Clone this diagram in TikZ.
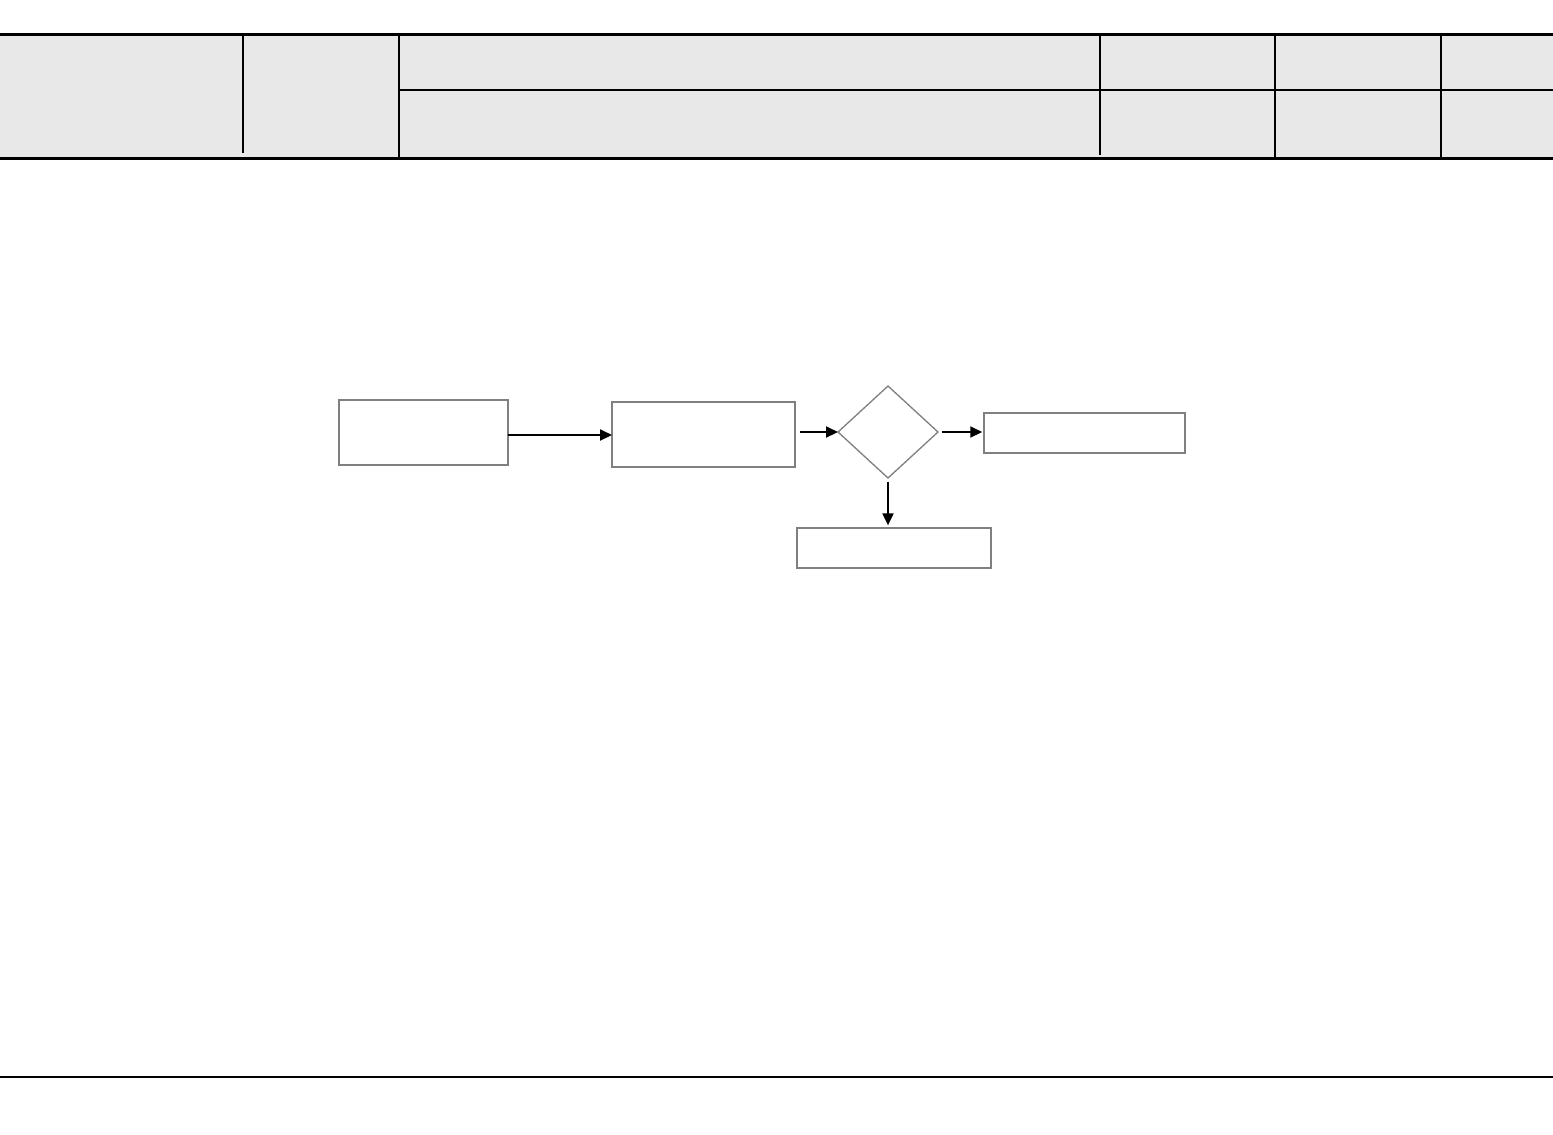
\documentclass[tikz,border=0pt]{standalone}
\usepackage{xcolor}
\usepackage{tikz}
\usetikzlibrary{shapes.geometric, arrows.meta, positioning, calc}
\definecolor{hdr-gray}{HTML}{E8E8E8}
\definecolor{box-gray}{HTML}{808080}

\begin{document}
\begin{tikzpicture}[
			x=0.02cm, y=-0.02cm,
			procbox/.style={
				draw=box-gray, fill=white, line width=0.75pt,
				inner sep=0pt, outer sep=0pt
			},
			decide/.style={
				diamond, draw=box-gray, fill=white, line width=0.75pt,
				minimum width=2cm, minimum height=1.84cm,
				inner sep=0pt, outer sep=0pt
			},
			flow/.style={
				-{Triangle[length=0.24cm, width=0.22cm]},
				line width=1.1pt, black
			},
			rule/.style={line width=1.7pt, black},
			cellline/.style={line width=1.1pt, black}
			]
			\useasboundingbox (0,0) rectangle (1553,1134);
			% header band
			\fill[hdr-gray] (0,35) rectangle (1553,157);
			\draw[rule] (0,34) -- (1553,34);
			\draw[rule] (0,158) -- (1553,158);
			\draw[cellline] (399,90) -- (1553,90);
			\foreach \xx/\ya/\yb in {243/35/153, 399/35/157, 1100/33/155, 1275/35/157, 1441/36/157}
				\draw[cellline] (\xx,\ya) -- (\xx,\yb);
			% footer rule
			\draw[line width=1.2pt] (0,1077) -- (1553,1077);

			% flow chart
			\node[procbox, minimum width=3.38cm, minimum height=1.3cm] (start) at (423.5,432.5) {};
			\node[procbox, minimum width=3.66cm, minimum height=1.3cm] (check) at (703.5,434.5) {};
			\node[decide] (ok) at (888,432) {};
			\node[procbox, minimum width=4.02cm, minimum height=0.8cm] (yes) at (1084.5,433) {};
			\node[procbox, minimum width=3.88cm, minimum height=0.8cm] (no) at (894,548) {};

			\draw[flow] (start.east |- 0,435) -- (check.west |- 0,435);
			\draw[flow, shorten <=3pt] (check.east |- ok.west) -- (ok.west);
			\draw[flow, shorten <=2pt, shorten >=1pt] (ok.east) -- (yes.west |- ok.east);
			\draw[flow, shorten <=2pt, shorten >=1.5pt] (ok.south) -- (ok.south |- no.north);
		\end{tikzpicture}
\end{document}
